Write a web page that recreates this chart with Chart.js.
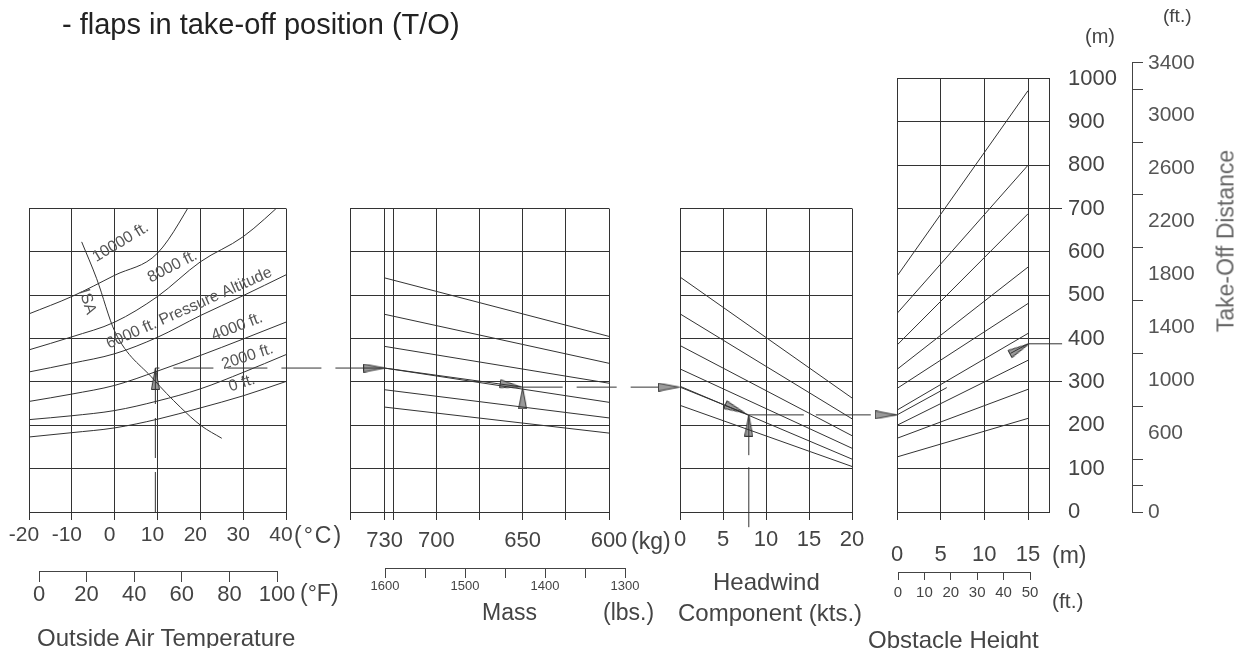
<!DOCTYPE html>
<html>
<head>
<meta charset="utf-8">
<script src="https://cdn.jsdelivr.net/npm/chart.js@4.4.1/dist/chart.umd.min.js"></script>
<style>
  body { margin: 0; background: #fff; }
  #wrap { position: relative; width: 1240px; height: 648px; overflow: hidden;
          font-family: "Liberation Sans", Arial, sans-serif; color: #444; }
  #wrap canvas { position: absolute; left: 0; top: 0; }
  .t { position: absolute; white-space: nowrap; line-height: 1; font-size: 24px; transform: translateY(-50%); }
</style>
</head>
<body>
<div id="wrap">
  <canvas id="oat" width="1240" height="648"></canvas>
  <canvas id="mass" width="1240" height="648"></canvas>
  <canvas id="wind" width="1240" height="648"></canvas>
  <canvas id="obst" width="1240" height="648"></canvas>
  <canvas id="degF" width="1240" height="648"></canvas>
  <canvas id="lbs" width="1240" height="648"></canvas>
  <canvas id="obstFt" width="1240" height="648"></canvas>
  <canvas id="distFt" width="1240" height="648"></canvas>

  <div class="t" style="left:62px;top:24px;font-size:29px;color:#222">- flaps in take-off position (T/O)</div>
  <div class="t" style="left:294px;top:535px;font-size:23px;letter-spacing:2px">(°C)</div>
  <div class="t" style="left:631px;top:541px;font-size:23px">(kg)</div>
  <div class="t" style="left:300px;top:593px;font-size:23px">(°F)</div>
  <div class="t" style="left:37px;top:638px">Outside Air Temperature</div>
  <div class="t" style="left:482px;top:612px;font-size:23px">Mass</div>
  <div class="t" style="left:603px;top:612px;font-size:23px">(lbs.)</div>
  <div class="t" style="left:713px;top:582px">Headwind</div>
  <div class="t" style="left:678px;top:613px">Component (kts.)</div>
  <div class="t" style="left:1052px;top:555px;font-size:23px">(m)</div>
  <div class="t" style="left:1052px;top:600px;font-size:21px">(ft.)</div>
  <div class="t" style="left:868px;top:640px">Obstacle Height</div>
  <div class="t" style="left:1085px;top:36px;font-size:20px">(m)</div>
  <div class="t" style="left:1163px;top:15px;font-size:19px">(ft.)</div>
  <div class="t" style="left:1226px;top:241px;font-size:23px;transform:translate(-50%,-50%) rotate(-90deg);color:#666">Take-Off Distance</div>
</div>

<script>
// ---- data (distance axis in metres) ----
// outside air temperature panel
const oatTemps = [-20, -10, 0, 10, 20, 30, 40];
const alt0     = [173, 183, 194, 214, 240, 268, 301];
const alt2000  = [213, 222, 234, 256, 284, 322, 363];
const alt4000  = [255, 272, 292, 325, 361, 399, 438];
const alt6000  = [323, 343, 365, 403, 453, 499, 547];
const alt8000  = [374, 404, 438, 497, 577, 635, 720];
const alt10000 = [457, 497, 546, 597, 748];
const isaTemps = [-7.7, -4.2, 0.1, 9, 15.3, 20.2, 25];
const isaDist  = [623, 538, 415, 307, 242, 199, 170];

// mass panel (kg), each line: [value at 730 kg, value at 600 kg]
const massKg = [730, 600];
const massLines = [[540, 405], [456, 343], [382, 297], [332, 253], [282, 217], [242, 182]];

// headwind panel (kts), each line: [value at 0, value at 20]
const windKts = [0, 20];
const windLines = [[542, 263], [457, 215], [384, 176], [330, 147], [290, 122], [246, 105]];

// obstacle height panel (m), each line: [value at 0 m, value at 15 m]
const obstM = [0, 15];
const obstLines = [[544, 972], [458, 800], [385, 688], [329, 565], [285, 481],
                   [235, 412], [200, 350], [170, 283], [127, 216]];

// tick labels
const oatTicks = [-20, -10, 0, 10, 20, 30, 40];
const kgTicks = [750, 730, 725, 700, 675, 650, 625, 600];
const kgLabels = [730, 700, 650, 600];
const windTicks = [0, 5, 10, 15, 20];
const obstTicks = [0, 5, 10, 15];
const mExtTicks = [300, 700];

// worked example path
const exOatT = [9.5, 9.5, 55],   exOatD = [0, 332, 332];
const exMassKg = [750, 730, 650], exMassD = [332, 332, 288];
const exMassOutKg = [650, 559],  exMassOutD = [288, 288];
const exWindKts = [0, 8],        exWindD = [288, 224];
const exWindUpKts = [8, 8],      exWindUpD = [-35, 224];
const exWindOutKts = [8, 25.2],  exWindOutD = [224, 224];
const exObstA_M = [0, 5.7],      exObstA_D = [224, 287];
const exObstB_M = [13, 15, 18.9], exObstB_D = [366, 388, 388];

// arrow heads: [x, y, direction in degrees]
const oatArrows = [[9.5, 307, 0]];
const massArrows = [[736, 332, 90], [657, 292, 99], [650, 262, 0]];
const windArrows = [[-1.3, 288, 90], [6.4, 238, 113], [8, 199, 0]];
const obstArrows = [[-1.3, 224, 90], [14, 376, 62]];

// curve annotations in the temperature panel: [text, temp, dist, angle]
const altNotes = [
  ['10000 ft.', 1.4, 622, -31],
  ['8000 ft.', 13.5, 566, -27],
  ['6000 ft. Pressure Altitude', 17.4, 470, -24],
  ['4000 ft.', 28.6, 427, -21],
  ['2000 ft.', 31, 358, -18],
  ['0 ft.', 29.7, 297, -18],
  ['ISA', -6.4, 485, 72]
];

// ---- drawing ----
Chart.defaults.font.family = '"Liberation Sans", Arial, sans-serif';
Chart.defaults.color = '#444';
Chart.defaults.plugins.legend.display = false;
Chart.defaults.plugins.tooltip.enabled = false;

const W = 1240, H = 648;
const INK = '#333';

// narrow arrow head used as point style
const arrowImg = document.createElement('canvas');
arrowImg.width = 9; arrowImg.height = 22;
(function () {
  const c = arrowImg.getContext('2d');
  c.beginPath();
  c.moveTo(4.5, 0.5); c.lineTo(8.5, 21.5); c.lineTo(0.5, 21.5); c.closePath();
  c.fillStyle = '#9a9a9a'; c.fill();
  c.strokeStyle = INK; c.lineWidth = 1; c.stroke();
})();

function pts(xs, ys) { return ys.map((y, i) => ({ x: xs[i], y: y })); }

function line(xs, ys, extra) {
  return Object.assign({ data: pts(xs, ys), borderColor: INK, borderWidth: 1,
    pointRadius: 0, fill: false }, extra || {});
}

function arrows(list) {
  return { data: list.map(a => ({ x: a[0], y: a[1] })), showLine: false,
    pointStyle: arrowImg, pointRadius: 20, pointRotation: list.map(a => a[2]), clip: false };
}

// chart area = (l,t)-(r,b); axisH / axisW = room kept for the bottom / right scale
const AXIS_H = 60, AXIS_W = 80;
function pad(l, t, r, b, axisH, axisW) {
  return { left: l, top: t, right: W - r - (axisW || 0), bottom: H - b - (axisH || 0) };
}

function xAxis(min, max, ticks, size, padding, extra) {
  return Object.assign({
    type: 'linear', min: min, max: max,
    afterFit: s => { s.height = AXIS_H; },
    afterBuildTicks: s => { s.ticks = ticks.map(v => ({ value: v })); },
    grid: { color: INK, tickLength: 8 },
    border: { display: false },
    ticks: { autoSkip: false, maxRotation: 0, font: { size: size }, padding: padding,
      callback: v => String(v) }
  }, extra || {});
}

function yAxis(max) {
  return {
    type: 'linear', min: 0, max: max,
    afterFit: s => { s.width = 0; },
    ticks: { display: false, stepSize: 100 },
    grid: { color: INK, drawTicks: false },
    border: { display: false }
  };
}

function makeChart(id, padding, datasets, scales, plugins) {
  return new Chart(document.getElementById(id), {
    type: 'line',
    data: { datasets: datasets },
    options: {
      responsive: false, animation: false, events: [], devicePixelRatio: 1,
      layout: { padding: padding },
      scales: scales
    },
    plugins: plugins || []
  });
}

const notesPlugin = {
  id: 'notes',
  afterDatasetsDraw(chart) {
    const c = chart.ctx, sx = chart.scales.x, sy = chart.scales.y;
    c.save();
    c.font = '16px "Liberation Sans", Arial, sans-serif';
    c.fillStyle = '#555';
    c.textAlign = 'center';
    c.textBaseline = 'middle';
    altNotes.forEach(n => {
      c.save();
      c.translate(sx.getPixelForValue(n[1]), sy.getPixelForValue(n[2]));
      c.rotate(n[3] * Math.PI / 180);
      c.fillText(n[0], 0, 0);
      c.restore();
    });
    c.restore();
  }
};

const dash = [40, 14];

// panel 1: outside air temperature
const oatX = xAxis(-20, 40, oatTicks, 21, 3);
oatX.ticks.labelOffset = -5;
makeChart('oat', pad(29, 208.5, 286, 512, AXIS_H), [
  line(oatTemps, alt0, { cubicInterpolationMode: 'monotone' }),
  line(oatTemps, alt2000, { cubicInterpolationMode: 'monotone' }),
  line(oatTemps, alt4000, { cubicInterpolationMode: 'monotone' }),
  line(oatTemps, alt6000, { cubicInterpolationMode: 'monotone' }),
  line(oatTemps, alt8000, { cubicInterpolationMode: 'monotone' }),
  line(oatTemps, alt10000, { cubicInterpolationMode: 'monotone' }),
  line(isaTemps, isaDist, { cubicInterpolationMode: 'monotone' }),
  line(exOatT, exOatD, { borderDash: dash, clip: false }),
  arrows(oatArrows)
], {
  x: oatX,
  y: yAxis(700)
}, [notesPlugin]);

// panel 2: mass
const massX = xAxis(600, 750, kgTicks, 22, 8, { reverse: true });
massX.ticks.callback = v => kgLabels.includes(v) ? String(v) : '';
makeChart('mass', pad(350, 208.5, 609, 512, AXIS_H),
  massLines.map(v => line(massKg, v)).concat([
    line(exMassKg, exMassD),
    line(exMassOutKg, exMassOutD, { borderDash: dash, clip: false }),
    arrows(massArrows)
  ]), {
  x: massX,
  y: yAxis(700)
});

// panel 3: headwind component
makeChart('wind', pad(680, 208.5, 852, 512, AXIS_H),
  windLines.map(v => line(windKts, v)).concat([
    line(exWindKts, exWindD),
    line(exWindUpKts, exWindUpD, { borderDash: [60, 12], clip: false }),
    line(exWindOutKts, exWindOutD, { borderDash: [55, 12], clip: false }),
    arrows(windArrows)
  ]), {
  x: xAxis(0, 20, windTicks, 22, 7),
  y: yAxis(700)
});

// panel 4: obstacle height with take-off distance (m)
const obstY = yAxis(1000);
obstY.position = 'right';
obstY.afterFit = s => { s.width = AXIS_W; };
obstY.ticks = { display: true, stepSize: 100, font: { size: 22 }, padding: 6, callback: v => String(v) };
obstY.grid = { color: INK, drawTicks: true, tickLength: 13,
  tickColor: ctx => (ctx.tick && mExtTicks.includes(ctx.tick.value)) ? INK : 'rgba(0,0,0,0)' };
obstY.border = { display: true, color: INK };
makeChart('obst', pad(897, 78.5, 1049, 512, AXIS_H, AXIS_W),
  obstLines.map(v => line(obstM, v)).concat([
    line(exObstA_M, exObstA_D),
    line(exObstB_M, exObstB_D, { clip: false }),
    arrows(obstArrows)
  ]), {
  x: xAxis(0, 17.4, obstTicks, 22, 22),
  y: obstY
});

// secondary scales
function bracket(id, padding, min, max, step, size, tl, padLabel, extra) {
  makeChart(id, padding, [], {
    x: Object.assign({
      type: 'linear', min: min, max: max,
      afterFit: s => { s.height = AXIS_H; },
      grid: { drawOnChartArea: false, color: '#444', tickLength: tl },
      border: { display: true, color: '#444' },
      ticks: { stepSize: step, autoSkip: false, maxRotation: 0, font: { size: size }, padding: padLabel }
    }, extra || {}),
    y: { display: false, min: 0, max: 1 }
  });
}
bracket('degF', pad(39, 560, 277, 571, AXIS_H), 0, 100, 20, 22, 11, 0);
bracket('lbs', pad(385, 557, 625, 568, AXIS_H), 1300, 1600, 50, 13, 10, 1, {
  reverse: true,
  ticks: { stepSize: 50, autoSkip: false, maxRotation: 0, font: { size: 13 }, padding: 1,
    callback: v => v % 100 === 0 ? String(v) : '' }
});
bracket('obstFt', pad(898, 570, 1030, 582, AXIS_H - 10), 0, 50, 10, 15, 8, 4);

// take-off distance in feet
const ftLabelled = v => v === 0 || (v >= 600 && (v - 600) % 400 === 0);
makeChart('distFt', pad(1120, 62.8, 1132, 512, 0, AXIS_W), [], {
  x: { display: false, min: 0, max: 1 },
  y: {
    type: 'linear', position: 'right', min: 0, max: 3400,
    afterFit: s => { s.width = AXIS_W; },
    grid: { drawOnChartArea: false, tickLength: 11, color: '#444',
      tickColor: ctx => (ctx.tick && (ctx.tick.value === 0 || ctx.tick.value === 3400 || !ftLabelled(ctx.tick.value))) ? '#444' : 'rgba(0,0,0,0)' },
    border: { display: true, color: '#444' },
    ticks: { stepSize: 200, autoSkip: false, font: { size: 21 }, padding: 5, color: '#555',
      callback: v => ftLabelled(v) ? String(v) : '' }
  }
});
</script>
</body>
</html>
